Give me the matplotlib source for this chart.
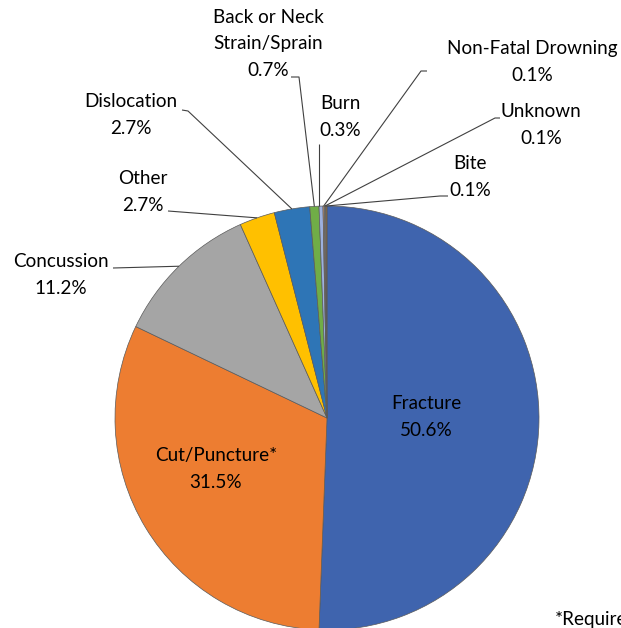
import matplotlib
matplotlib.use("Agg")
import matplotlib.pyplot as plt
import numpy as np

categories = ["Fracture", "Cut/Puncture*", "Concussion", "Other", "Dislocation",
              "Back or Neck\nStrain/Sprain", "Burn", "Non-Fatal Drowning", "Unknown", "Bite"]
values = [50.6, 31.5, 11.2, 2.7, 2.7, 0.7, 0.3, 0.1, 0.1, 0.1]
colors = ["#3F64AE", "#ED7D31", "#A5A5A5", "#FFC000", "#2E75B6",
          "#70AD47", "#9DB0DE", "#C8906A", "#9A9A9A", "#8E6B3E"]

W, H = 621, 628
fig = plt.figure(figsize=(W / 100, H / 100), dpi=100)
ax = fig.add_axes([0, 0, 1, 1])
ax.set_xlim(0, W)
ax.set_ylim(0, H)
ax.set_aspect("equal")
ax.axis("off")

cx, cy, R = 327, H - 418, 212
wedges, _ = ax.pie(values, colors=colors, startangle=90, counterclock=False,
                   center=(cx, cy), radius=R,
                   wedgeprops=dict(edgecolor="#5a5a5a", linewidth=0.5))
ax.set_xlim(0, W)
ax.set_ylim(0, H)

FONT = ["Lato", "DejaVu Sans"]
FS = 13.6
def label(x, y, s, ha="center"):
    ax.text(x, H - y, s, ha=ha, va="center", fontsize=FS, family=FONT,
            color="#000000", linespacing=1.68)

# inside labels
label(426, 417, f"{categories[0]}\n{values[0]}%")
label(216, 469, f"{categories[1]}\n{values[1]}%")

# outside labels: text center and leader path start points (pixel coords)
outside = {
    2: ((61, 275), [(113, 268)]),
    3: ((143, 192), [(168, 211)]),
    4: ((131, 115), [(182, 110), (188, 111)]),
    5: ((268, 44), [(291, 77), (299, 77)]),
    6: ((340, 117), [(319, 144)]),
    7: ((532, 62), [(427, 71), (421, 71)]),
    8: ((541, 125), [(500, 118), (495, 118)]),
    9: ((470, 177), [(448, 196), (440, 196)]),
}
for i, ((tx, ty), pts) in outside.items():
    label(tx, ty, f"{categories[i]}\n{values[i]}%")
    w = wedges[i]
    mid = np.deg2rad((w.theta1 + w.theta2) / 2)
    ex, ey = cx + R * np.cos(mid), cy + R * np.sin(mid)
    xs = [p[0] for p in pts]
    ys = [H - p[1] for p in pts]
    if i == 6:
        xs.append(xs[0]); ys.append(ey)
    else:
        xs.append(ex); ys.append(ey)
    ax.plot(xs, ys, color="#404040", lw=0.8, solid_capstyle="butt")

ax.text(555, H - 620, "*Required", ha="left", va="center", fontsize=FS,
        family=FONT, color="#000000")

fig.savefig("out.png", dpi=100)
